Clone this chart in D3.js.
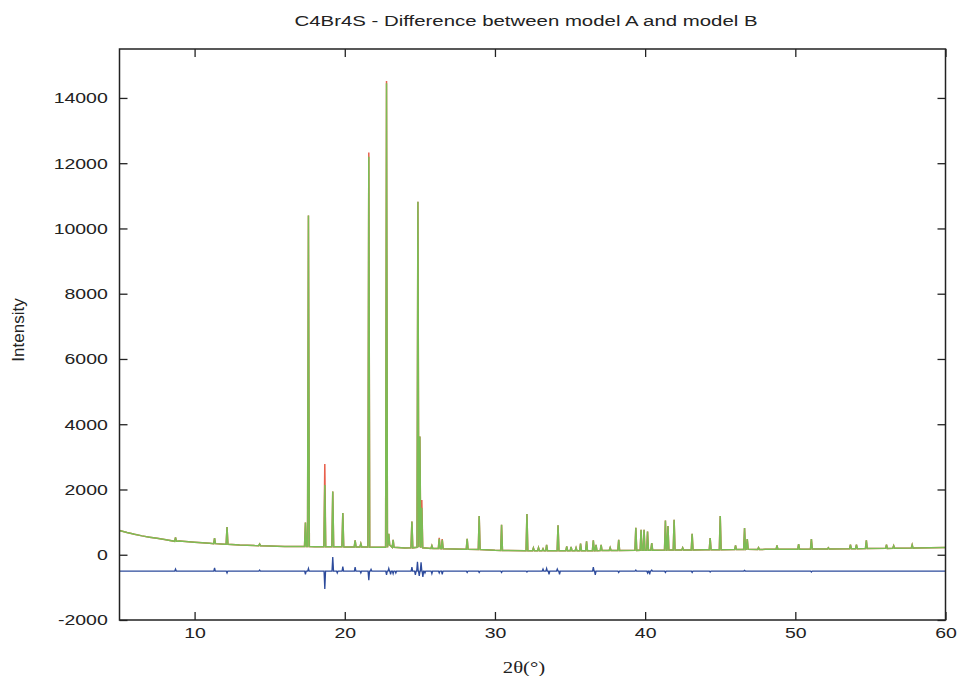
<!DOCTYPE html>
<html>
<head>
<meta charset="utf-8">
<script src="https://cdn.jsdelivr.net/npm/d3@7"></script>
<style>
  body { margin: 0; background: #fff; }
  text { font-family: "Liberation Sans", Arial, sans-serif; fill: #222; }
</style>
</head>
<body>
<div id="chart"></div>
<script>
// ---------- data ----------
const title = 'C4Br4S - Difference between model A and model B';
const xTicks = [10, 20, 30, 40, 50, 60];
const yTicks = [-2000, 0, 2000, 4000, 6000, 8000, 10000, 12000, 14000];

// smooth background under the pattern: [2θ, intensity]
const background = [
  [5, 745], [5.5, 680], [6, 625], [6.5, 578], [7, 538], [7.5, 502], [8, 470],
  [9, 420], [10, 382], [11, 350], [12, 322], [13, 298], [14, 280], [15, 266],
  [16, 256], [17, 250], [18, 246], [20, 240], [22, 228], [24, 210], [26, 190],
  [28, 170], [30, 135], [32, 122], [34, 120], [36, 125], [38, 130], [40, 138],
  [42, 145], [44, 150], [46, 158], [48, 165], [50, 170], [52, 178], [54, 186],
  [56, 195], [58, 205], [60, 220]
];

// reflections: [2θ, foot level, model B (calc) top, model A (obs) top]
const peaks = [
  [8.73, 412, 530, 530], [11.33, 340, 510, 510], [12.16, 322, 850, 850],
  [14.33, 278, 330, 330], [17.38, 250, 990, 990], [17.58, 250, 10400, 10400],
  [18.67, 246, 2140, 2780], [19.20, 245, 1940, 1940], [19.87, 243, 1280, 1280],
  [20.69, 240, 440, 440], [21.07, 238, 340, 340], [21.60, 236, 12200, 12330],
  [22.78, 229, 14450, 14520], [22.93, 300, 640, 640], [23.22, 226, 460, 460],
  [24.47, 212, 1020, 1020], [24.87, 230, 10820, 10820], [25.00, 260, 3620, 3620],
  [25.13, 215, 1440, 1680], [25.80, 190, 275, 275], [26.29, 188, 490, 520],
  [26.49, 186, 460, 480], [28.15, 168, 490, 490], [28.95, 160, 1190, 1190],
  [30.44, 132, 920, 920], [32.13, 122, 1245, 1245], [32.56, 122, 210, 210],
  [32.90, 121, 215, 215], [33.20, 121, 180, 180], [33.44, 120, 300, 300],
  [34.20, 120, 900, 900], [34.78, 122, 255, 255], [35.07, 123, 240, 240],
  [35.40, 124, 215, 215], [35.70, 124, 340, 340], [36.10, 125, 410, 410],
  [36.55, 126, 440, 440], [36.73, 126, 300, 300], [37.07, 127, 300, 300],
  [37.67, 129, 215, 215], [38.24, 130, 460, 460], [39.38, 134, 830, 830],
  [39.73, 136, 765, 765], [39.93, 137, 765, 765], [40.16, 138, 715, 715],
  [40.44, 139, 360, 360], [41.35, 142, 1050, 1050], [41.52, 143, 880, 880],
  [41.93, 144, 1070, 1070], [42.50, 146, 215, 215], [43.13, 147, 640, 640],
  [44.33, 151, 510, 510], [45.00, 153, 1190, 1190], [46.02, 158, 285, 285],
  [46.62, 160, 815, 815], [46.80, 170, 480, 480], [47.55, 162, 215, 215],
  [48.78, 166, 285, 285], [50.22, 171, 325, 325], [51.07, 173, 480, 480],
  [52.20, 178, 215, 215], [53.67, 184, 305, 305], [54.07, 186, 305, 305],
  [54.73, 189, 440, 440], [56.07, 195, 305, 305], [56.55, 197, 275, 275],
  [57.78, 203, 305, 305]
];

// difference curve, drawn offset at -500: [2θ, value]
const diffLevel = -500;
const diffSpikes = [
  [8.73, -440], [11.33, -400], [12.16, -560], [14.33, -470], [17.38, -600],
  [17.58, -420], [18.67, -1050], [19.20, -70], [19.50, -560], [19.87, -360],
  [20.69, -380], [21.07, -560], [21.60, -780], [21.75, -450], [22.78, -620],
  [22.93, -420], [23.05, -600], [23.22, -580], [23.40, -560], [24.47, -380],
  [24.70, -620], [24.84, -220], [24.96, -650], [25.08, -230], [25.20, -680],
  [25.34, -560], [25.80, -580], [26.29, -560], [26.49, -600], [28.15, -540],
  [28.95, -540], [30.44, -540], [32.13, -530], [33.20, -440], [33.44, -420],
  [33.60, -600], [34.15, -440], [34.30, -600], [36.55, -380], [36.68, -620],
  [38.24, -540], [39.38, -470], [40.16, -560], [40.30, -600], [40.44, -470],
  [41.35, -540], [43.13, -540], [44.33, -530], [46.62, -480], [51.07, -530]
];

// ---------- layout ----------
const width = 960, height = 676;
const plot = { left: 119.5, right: 945.5, top: 49, bottom: 620 };
const HW = 0.06;   // half width of a drawn reflection, in degrees

const svg = d3.select('#chart').append('svg')
  .attr('width', width).attr('height', height);

const x = d3.scaleLinear().domain([5, 60]).range([plot.left, plot.right]);
const y = d3.scaleLinear().domain([-2000, 15500]).range([plot.bottom, plot.top]);

function profile(col) {
  const pts = background.filter(([b]) => !peaks.some(p => Math.abs(p[0] - b) < HW + 0.02));
  peaks.forEach(p => {
    pts.push([p[0] - HW, p[1]], [p[0], p[col]], [p[0] + HW, p[1]]);
  });
  return pts.sort((a, b) => a[0] - b[0]);
}

const diffPts = [[5, diffLevel]];
diffSpikes.forEach(([p, v]) => {
  diffPts.push([p - 0.05, diffLevel], [p, v], [p + 0.05, diffLevel]);
});
diffPts.push([60, diffLevel]);

const line = d3.line().x(d => x(d[0])).y(d => y(d[1]));

svg.append('defs').append('clipPath').attr('id', 'clip')
  .append('rect')
  .attr('x', plot.left).attr('y', plot.top)
  .attr('width', plot.right - plot.left).attr('height', plot.bottom - plot.top);

const lines = svg.append('g').attr('clip-path', 'url(#clip)');
lines.append('path').datum(profile(3))
  .attr('fill', 'none').attr('stroke', '#e8604c').attr('stroke-width', 1.5)
  .attr('d', line);
lines.append('path').datum(profile(2))
  .attr('fill', 'none').attr('stroke', '#7bbd55').attr('stroke-width', 1.5)
  .attr('d', line);
lines.append('path').datum(diffPts)
  .attr('fill', 'none').attr('stroke', '#2d4b9c').attr('stroke-width', 1.3)
  .attr('d', line);

// ---------- axes (gnuplot style: ticks inside, mirrored) ----------
const stretch = 'scale(1.3,1)';
const plain = d => String(d);

const gx = svg.append('g').attr('transform', `translate(0,${plot.bottom})`)
  .call(d3.axisBottom(x).tickValues(xTicks).tickFormat(plain)
    .tickSizeInner(-8).tickSizeOuter(0).tickPadding(7));
const gy = svg.append('g').attr('transform', `translate(${plot.left},0)`)
  .call(d3.axisLeft(y).tickValues(yTicks).tickFormat(plain)
    .tickSizeInner(-8).tickSizeOuter(0).tickPadding(9));
svg.append('g').attr('transform', `translate(0,${plot.top})`)
  .call(d3.axisTop(x).tickValues(xTicks).tickSizeInner(-8).tickSizeOuter(0).tickFormat(''));
svg.append('g').attr('transform', `translate(${plot.right},0)`)
  .call(d3.axisRight(y).tickValues(yTicks).tickSizeInner(-8).tickSizeOuter(0).tickFormat(''));

svg.selectAll('.domain').remove();
svg.selectAll('.tick line').attr('stroke', '#222').attr('stroke-width', 1.3);
[gx, gy].forEach(g => g.selectAll('text')
  .attr('font-size', 15).attr('font-family', '"Liberation Sans", Arial, sans-serif')
  .attr('fill', '#222').attr('transform', stretch));

svg.append('rect')
  .attr('x', plot.left).attr('y', plot.top)
  .attr('width', plot.right - plot.left).attr('height', plot.bottom - plot.top)
  .attr('fill', 'none').attr('stroke', '#222').attr('stroke-width', 1.5);

// ---------- labels ----------
svg.append('text')
  .attr('transform', 'translate(526,26) scale(1.36,1)')
  .attr('text-anchor', 'middle').attr('font-size', 15)
  .text(title);

svg.append('text')
  .attr('transform', `translate(524,673) ${stretch}`)
  .attr('text-anchor', 'middle').attr('font-size', 16)
  .style('font-family', '"Liberation Serif", "Times New Roman", serif')
  .text('2θ(°)');

svg.append('text')
  .attr('transform', 'translate(24,330) rotate(-90)')
  .attr('text-anchor', 'middle').attr('font-size', 17)
  .text('Intensity');
</script>
</body>
</html>
